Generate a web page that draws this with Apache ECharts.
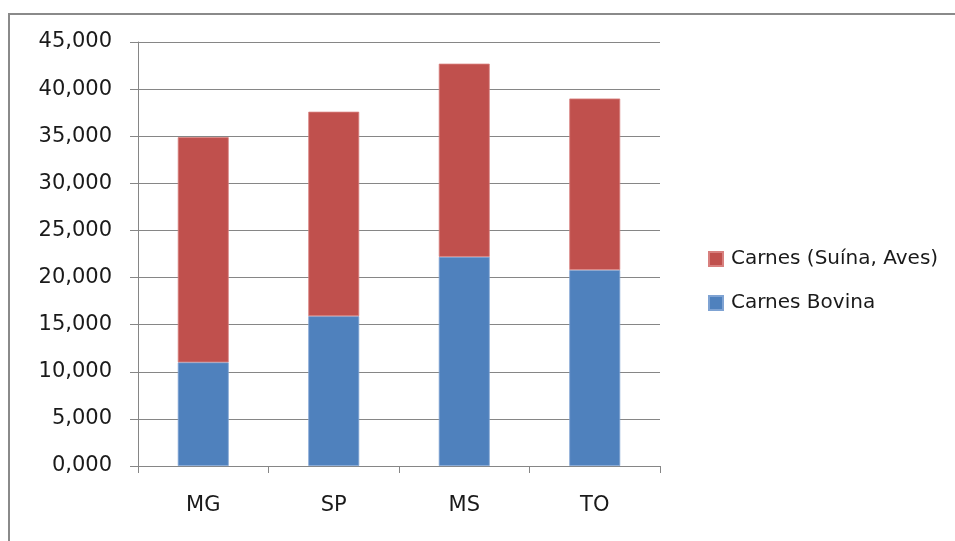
<!DOCTYPE html>
<html>
<head>
<meta charset="utf-8">
<script src="https://cdn.jsdelivr.net/npm/echarts@6/dist/echarts.min.js"></script>
<style>
  html, body { margin: 0; padding: 0; background: #fff; }
  #chart { width: 955px; height: 541px; }
</style>
</head>
<body>
<div id="chart"></div>
<script>
// Estados e valores (milhares)
const categories = ['MG', 'SP', 'MS', 'TO'];
const bovina = [11.0, 15.9, 22.2, 20.8];
const suinaAves = [23.9, 21.7, 20.5, 18.2];
const yMin = 0, yMax = 45, yStep = 5;

const FONT = 'DejaVu Sans';
const chart = echarts.init(document.getElementById('chart'), null, { renderer: 'canvas' });

const fmt = v => v.toFixed(3).replace('.', ',');

chart.setOption({
  animation: false,
  backgroundColor: '#ffffff',
  graphic: [{
    type: 'rect',
    shape: { x: 9, y: 14, width: 960, height: 560 },
    style: { fill: 'none', stroke: '#8a8a8a', lineWidth: 2 },
    z: 100
  }],
  grid: { left: 138, right: 295, top: 42, bottom: 75, containLabel: false },
  legend: {
    orient: 'vertical',
    left: 703, top: 243,
    itemWidth: 14, itemHeight: 14, itemGap: 22,
    icon: 'rect',
    data: ['Carnes (Suína, Aves)', 'Carnes Bovina'],
    textStyle: { fontFamily: FONT, fontSize: 20, lineHeight: 22, color: '#1a1a1a', padding: [0, 0, 0, 3] }
  },
  xAxis: {
    type: 'category',
    data: categories,
    boundaryGap: true,
    axisLine: { lineStyle: { color: '#868686', width: 1 } },
    axisTick: { show: true, length: 7, lineStyle: { color: '#868686' } },
    axisLabel: { fontFamily: FONT, fontSize: 21, color: '#1a1a1a', margin: 29 }
  },
  yAxis: {
    type: 'value',
    min: yMin, max: yMax, interval: yStep,
    axisLine: { show: true, lineStyle: { color: '#868686', width: 1 } },
    axisTick: { show: true, length: 8, lineStyle: { color: '#868686' } },
    splitLine: { show: true, lineStyle: { color: '#868686', width: 1 } },
    axisLabel: { fontFamily: FONT, fontSize: 21, color: '#1a1a1a', margin: 26, padding: [4, 0, 0, 0], formatter: fmt }
  },
  series: [
    {
      name: 'Carnes Bovina', type: 'bar', stack: 'total', data: bovina,
      barWidth: '39%',
      itemStyle: { color: '#4f81bd', borderColor: '#7fa3d3', borderWidth: 0.8 }
    },
    {
      name: 'Carnes (Suína, Aves)', type: 'bar', stack: 'total', data: suinaAves,
      barWidth: '39%',
      itemStyle: { color: '#c0504d', borderColor: '#d8807e', borderWidth: 0.8 }
    }
  ]
});
</script>
</body>
</html>
